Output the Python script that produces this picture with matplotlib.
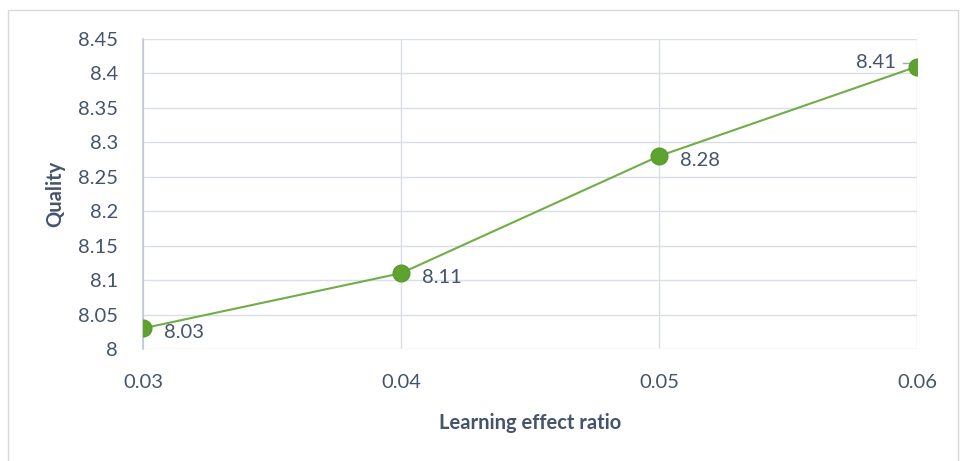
import matplotlib
matplotlib.use("Agg")
import matplotlib.pyplot as plt
from matplotlib.patches import Rectangle

ratios = [0.03, 0.04, 0.05, 0.06]
quality = [8.03, 8.11, 8.28, 8.41]
y_ticks = [8, 8.05, 8.1, 8.15, 8.2, 8.25, 8.3, 8.35, 8.4, 8.45]
y_tick_labels = ["8", "8.05", "8.1", "8.15", "8.2", "8.25", "8.3", "8.35", "8.4", "8.45"]

TEXT = "#44546A"
GRID = "#D9DEE7"

plt.rcParams["font.family"] = ["Lato", "DejaVu Sans"]

fig = plt.figure(figsize=(9.63, 4.61), dpi=100)
fig.patches.append(Rectangle((8 / 963, -0.01), (958 - 8) / 963, 1 - 10 / 461 + 0.01,
                             transform=fig.transFigure, fill=False,
                             edgecolor="#D9D9D9", linewidth=1))

ax = fig.add_axes([143 / 963, 1 - 349 / 461, (917 - 143) / 963, (349 - 39) / 461])

x_pos = list(range(len(ratios)))
ax.plot(x_pos, quality, color="#70AD47", linewidth=1.5, zorder=3)
ax.plot(x_pos, quality, "o", color="#5EA32F", markersize=12,
        markeredgecolor="#5A9A2E", zorder=4)

for i, q in enumerate(quality):
    if i == len(quality) - 1:
        ax.annotate(f"{q:.2f}", (i, q), xytext=(-15, 3), textcoords="offset points",
                    ha="right", va="center", fontsize=14.5, color=TEXT)
        ax.plot([i - 0.055, i - 0.02], [q + 0.005, q + 0.005], color="#A6A6A6", lw=1, zorder=2)
    else:
        ax.annotate(f"{q:.2f}", (i, q), xytext=(15, -3), textcoords="offset points",
                    ha="left", va="center", fontsize=14.5, color=TEXT)

ax.set_xlim(0, len(ratios) - 1)
ax.set_ylim(8, 8.45)
ax.set_xticks(x_pos)
ax.set_xticklabels([f"{r:.2f}" for r in ratios])
ax.set_yticks(y_ticks)
ax.set_yticklabels(y_tick_labels)
ax.tick_params(axis="both", length=0, labelsize=14.5, colors=TEXT)
ax.tick_params(axis="x", pad=18)
ax.tick_params(axis="y", pad=18)

ax.grid(True, color=GRID, linewidth=1)
ax.set_axisbelow(True)
for side in ["top", "right", "bottom"]:
    ax.spines[side].set_visible(False)
ax.spines["left"].set_color("#BFC7D5")
ax.spines["left"].set_linewidth(1.2)

ax.set_xlabel("Learning effect ratio", fontsize=14.5, fontweight="bold", color=TEXT, labelpad=16)
ax.set_ylabel("Quality", fontsize=14.5, fontweight="bold", color=TEXT, labelpad=9)

fig.savefig("out.png", dpi=100)
